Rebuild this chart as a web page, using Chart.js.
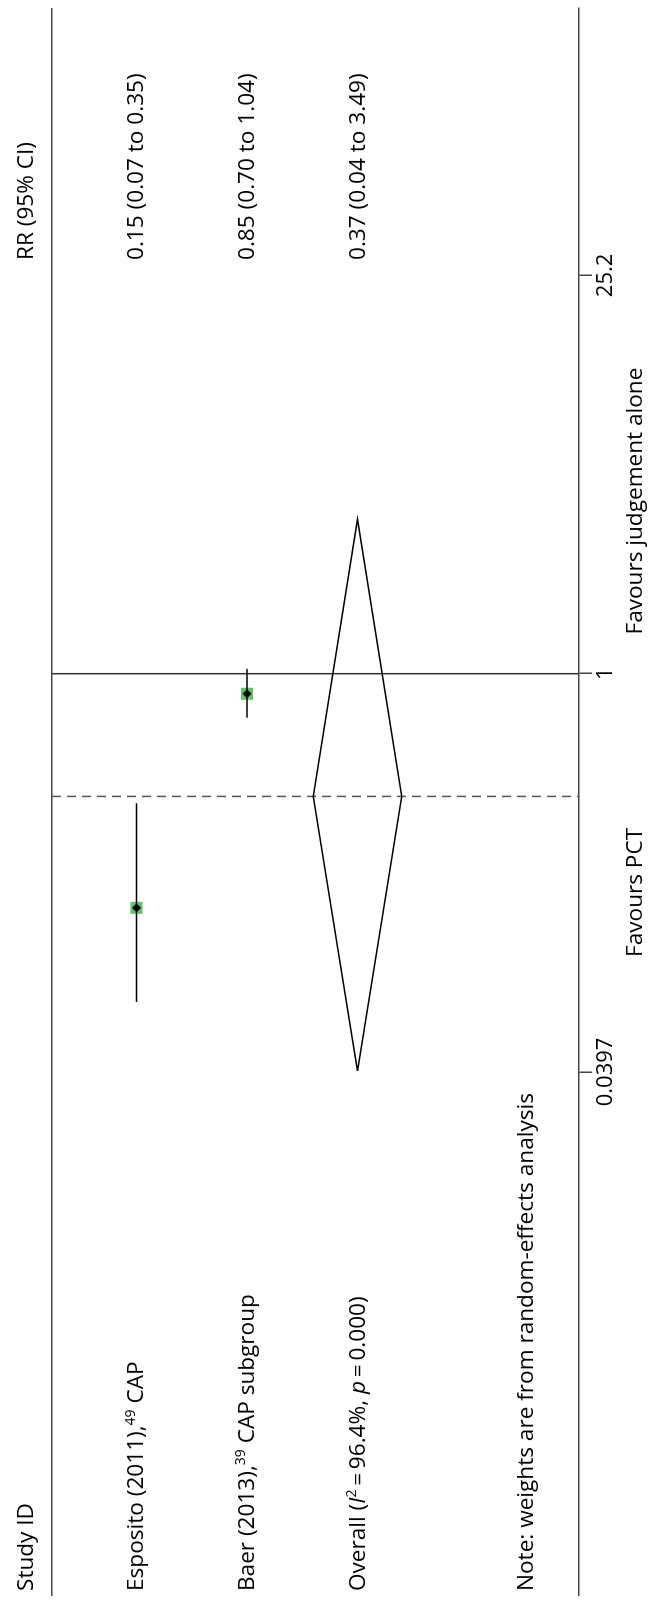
<!DOCTYPE html>
<html>
<head>
<meta charset="utf-8">
<script src="https://cdn.jsdelivr.net/npm/chart.js@4/dist/chart.umd.min.js"></script>
<style>
    html, body { margin: 0; padding: 0; background: #fff; }
    body { width: 648px; height: 1604px; overflow: hidden; position: relative; }
    /* the forest plot is laid out normally, then turned a quarter turn */
    #plot {
        position: absolute; left: 0; top: 0;
        width: 1604px; height: 648px;
        transform-origin: 0 0;
        transform: translate(0, 1604px) rotate(-90deg);
        font-family: 'Open Sans', sans-serif; font-size: 22.6px; color: #000;
    }
    #plot canvas { position: absolute; left: 0; top: 0; }
    .lbl { position: absolute; white-space: nowrap; line-height: 28px; height: 28px; }
    .lbl sup { font-size: 0.62em; vertical-align: baseline; position: relative; top: -0.62em; line-height: 0; }
    .mid { transform: translateX(-50%); }
</style>
</head>
<body>
<div id="plot">
    <canvas id="forest" width="1604" height="648"></canvas>
</div>
<script>
// Study rows
const studyNames = ['Esposito (2011),', 'Baer (2013),'];
const studyRefs = ['49', '39'];
const studyGroups = ['CAP', 'CAP subgroup'];
const studyRR = [0.15, 0.85];
const studyLow = [0.07, 0.70];
const studyHigh = [0.35, 1.04];

// Pooled estimate
const overallRR = 0.37;
const overallLow = 0.04;
const overallHigh = 3.49;
const overallI2 = '96.4%';
const overallP = '0.000';

// Axis
const tickValues = [0.0397, 1, 25.2];
const tickLabels = ['0.0397', '1', '25.2'];
const favourLabels = ['Favours PCT', 'Favours judgement alone'];

// layout (rows are 1..n, overall after them)
const FONT = "'Open Sans', sans-serif";
const yMin = 0.2353, yMax = 5.0045;
const xMin = 0.0005707, xMax = 219.1;
const overallRow = studyNames.length + 1;
const noteRow = 4.525;
const diamondHalf = 0.4;
const favourAt = [0.17, 4.05];

const fmt = v => v.toFixed(2);

const datasets = [];

// black point estimates (on top)
datasets.push({
    data: studyRR.map((v, i) => ({x: v, y: i + 1})),
    pointStyle: 'rectRot', pointRadius: 4.5, pointBackgroundColor: '#000', pointBorderWidth: 0
});

// confidence intervals
studyRR.forEach((v, i) => {
    datasets.push({
        data: [{x: studyLow[i], y: i + 1}, {x: studyHigh[i], y: i + 1}],
        showLine: true, borderColor: '#000', borderWidth: 1.6, pointRadius: 0
    });
});

// weight boxes
datasets.push({
    data: studyRR.map((v, i) => ({x: v, y: i + 1})),
    pointStyle: 'rect', pointRadius: 8.5, pointBackgroundColor: '#62c262', pointBorderWidth: 0
});

// overall diamond
datasets.push({
    data: [
        {x: overallLow, y: overallRow},
        {x: overallRR, y: overallRow - diamondHalf},
        {x: overallHigh, y: overallRow},
        {x: overallRR, y: overallRow + diamondHalf},
        {x: overallLow, y: overallRow}
    ],
    showLine: true, borderColor: '#000', borderWidth: 1.6, pointRadius: 0, tension: 0
});

// dashed line at pooled estimate
datasets.push({
    data: [{x: overallRR, y: yMin}, {x: overallRR, y: yMax}],
    showLine: true, borderColor: '#555', borderWidth: 1.5, borderDash: [9, 6], pointRadius: 0
});

// line of no effect
datasets.push({
    data: [{x: 1, y: yMin}, {x: 1, y: yMax}],
    showLine: true, borderColor: '#333', borderWidth: 1.5, pointRadius: 0
});

const chart = new Chart(document.getElementById('forest'), {
    type: 'scatter',
    data: {datasets: datasets},
    options: {
        responsive: false,
        animation: false,
        events: [],
        layout: {padding: {top: 52, right: 8, bottom: 0, left: 0}},
        plugins: {legend: {display: false}, tooltip: {enabled: false}},
        scales: {
            x: {
                type: 'logarithmic', position: 'bottom', bounds: 'data',
                min: xMin, max: xMax,
                afterBuildTicks: s => { s.ticks = tickValues.map(v => ({value: v})); },
                afterFit: s => { s.height = 69; },
                grid: {drawOnChartArea: false, drawTicks: true, tickLength: 13, color: '#444', lineWidth: 1.5},
                border: {color: '#444', width: 1.5},
                ticks: {
                    callback: (v, i) => tickLabels[i],
                    font: {family: FONT, size: 22}, color: '#000',
                    padding: 1, maxRotation: 0, autoSkip: false
                }
            },
            top: {
                type: 'linear', position: 'top', min: 0, max: 1,
                afterFit: s => { s.height = 0; },
                grid: {drawOnChartArea: false, drawTicks: false},
                border: {color: '#444', width: 1.5},
                ticks: {display: false}
            },
            y: {
                type: 'linear', display: false, reverse: true,
                min: yMin, max: yMax
            }
        }
    }
});

// text columns
const plot = document.getElementById('plot');
const sx = chart.scales.x, sy = chart.scales.y;

function addLabel(html, left, centerY, centered) {
    const d = document.createElement('div');
    d.className = 'lbl' + (centered ? ' mid' : '');
    d.innerHTML = html;
    d.style.left = left + 'px';
    d.style.top = (centerY - 15) + 'px';
    plot.appendChild(d);
}

const leftCol = 13, rightCol = 1344;
addLabel('Study ID', leftCol, sy.getPixelForValue(0));
addLabel('RR (95% CI)', rightCol, sy.getPixelForValue(0));
studyNames.forEach((n, i) => {
    const y = sy.getPixelForValue(i + 1);
    addLabel(n + '<sup>' + studyRefs[i] + '</sup> ' + studyGroups[i], leftCol, y);
    addLabel(fmt(studyRR[i]) + ' (' + fmt(studyLow[i]) + ' to ' + fmt(studyHigh[i]) + ')', rightCol, y);
});
const yo = sy.getPixelForValue(overallRow);
addLabel('Overall (<i>I</i><sup>2</sup>\u2009=\u2009' + overallI2 + ', <i>p</i>\u2009=\u2009' + overallP + ')', leftCol, yo);
addLabel(fmt(overallRR) + ' (' + fmt(overallLow) + ' to ' + fmt(overallHigh) + ')', rightCol, yo);
addLabel('Note: weights are from random-effects analysis', leftCol, sy.getPixelForValue(noteRow));

favourLabels.forEach((t, i) => {
    addLabel(t, sx.getPixelForValue(favourAt[i]), chart.chartArea.bottom + 56, true);
});
</script>
</body>
</html>
